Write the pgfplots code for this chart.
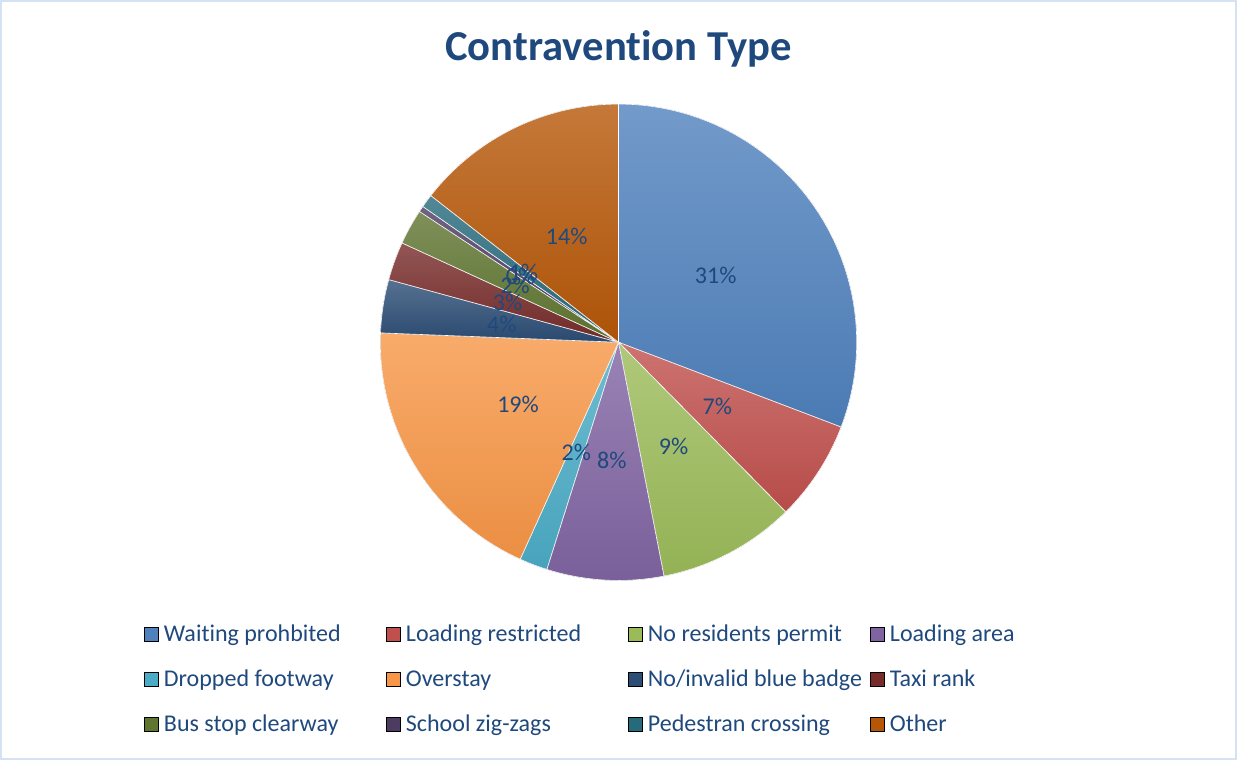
\documentclass[border=0pt]{standalone}
\usepackage{pgfplots}
\pgfplotsset{compat=1.18}
\usepackage{pgfplotstable}
\usepackage{fontspec}
\setmainfont{Carlito}[Ligatures={NoCommon}]

\definecolor{c0}{HTML}{4F81BD}
\definecolor{c1}{HTML}{C0504D}
\definecolor{c2}{HTML}{9BBB59}
\definecolor{c3}{HTML}{8064A2}
\definecolor{c4}{HTML}{4BACC6}
\definecolor{c5}{HTML}{F79646}
\definecolor{c6}{HTML}{2C4D75}
\definecolor{c7}{HTML}{772C2A}
\definecolor{c8}{HTML}{5F7530}
\definecolor{c9}{HTML}{4D3B62}
\definecolor{c10}{HTML}{276A7C}
\definecolor{c11}{HTML}{B65708}
\definecolor{txt}{HTML}{1F497D}
\definecolor{frame}{HTML}{D5E2F3}

\pgfplotstableread{
value
30.7
6.8
9.3
7.9
1.9
18.8
3.6
2.6
2.4
0.4
0.9
14.4
}\pietable

\pgfplotsset{sq/.style={legend image code/.code={\fill[##1] (0pt,-3pt) rectangle (7pt,4pt);}}}

\begin{document}
\begin{tikzpicture}
\begin{axis}[
  at={(0,0)}, anchor=south west,
  width=618.5pt, height=380pt, scale only axis,
  xmin=0, xmax=1237, ymin=0, ymax=760,
  hide axis, clip=false,
  legend columns=4,
  legend cell align=left,
  legend style={at={(axis cs:144,80)}, anchor=west, draw=none, fill=none,
    inner sep=0pt, outer sep=0pt, row sep=10.5pt,
    font=\fontsize{12}{14}\selectfont, text=txt,
    nodes={inner xsep=0pt, inner ysep=0pt, text height=9pt, text depth=3pt},
    /tikz/every odd column/.append style={column sep=2.5pt},
    /tikz/every even column/.append style={column sep=0pt}},
]
\addlegendimage{sq, fill=c0}\addlegendentry{\makebox[111pt][l]{Waiting prohbited}}
\addlegendimage{sq, fill=c1}\addlegendentry{\makebox[111pt][l]{Loading restricted}}
\addlegendimage{sq, fill=c2}\addlegendentry{\makebox[111pt][l]{No residents permit}}
\addlegendimage{sq, fill=c3}\addlegendentry{\makebox[111pt][l]{Loading area}}
\addlegendimage{sq, fill=c4}\addlegendentry{\makebox[111pt][l]{Dropped footway}}
\addlegendimage{sq, fill=c5}\addlegendentry{\makebox[111pt][l]{Overstay}}
\addlegendimage{sq, fill=c6}\addlegendentry{\makebox[111pt][l]{No/invalid blue badge}}
\addlegendimage{sq, fill=c7}\addlegendentry{\makebox[111pt][l]{Taxi rank}}
\addlegendimage{sq, fill=c8}\addlegendentry{\makebox[111pt][l]{Bus stop clearway}}
\addlegendimage{sq, fill=c9}\addlegendentry{\makebox[111pt][l]{School zig-zags}}
\addlegendimage{sq, fill=c10}\addlegendentry{\makebox[111pt][l]{Pedestran crossing}}
\addlegendimage{sq, fill=c11}\addlegendentry{\makebox[111pt][l]{Other}}

\def\total{0}
\pgfplotsforeachungrouped \i in {0,...,11}{%
  \pgfplotstablegetelem{\i}{value}\of\pietable
  \pgfmathsetmacro\total{\total+\pgfplotsretval}%
}
% wedges
\def\cum{0}
\pgfplotsforeachungrouped \i in {0,...,11}{%
  \pgfplotstablegetelem{\i}{value}\of\pietable
  \let\v\pgfplotsretval
  \pgfmathsetmacro\a{90-\cum/\total*360}%
  \pgfmathsetmacro\cumnew{\cum+\v}%
  \pgfmathsetmacro\b{90-\cumnew/\total*360}%
  \edef\temp{\noexpand\fill[top color=c\i!80!white, bottom color=c\i!95!black, draw=white, line width=0.3pt]
    (axis cs:618,418) -- ++(\a:119pt) arc[start angle=\a, end angle=\b, radius=119pt] -- cycle;}%
  \temp
  \let\cum\cumnew
}
% labels
\def\cum{0}
\pgfplotsforeachungrouped \i in {0,...,11}{%
  \pgfplotstablegetelem{\i}{value}\of\pietable
  \let\v\pgfplotsretval
  \pgfmathsetmacro\a{90-\cum/\total*360}%
  \pgfmathsetmacro\cumnew{\cum+\v}%
  \pgfmathsetmacro\b{90-\cumnew/\total*360}%
  \pgfmathsetmacro\m{(\a+\b)/2}%
  \pgfmathtruncatemacro\pp{round(\v/\total*100)}%
  \edef\temp{\noexpand\node[text=txt, font=\noexpand\fontsize{12}{14}\noexpand\selectfont, inner sep=0pt]
    at ([shift={(\m:59pt)}]axis cs:618,418) {\pp\noexpand\%};}%
  \temp
  \let\cum\cumnew
}
\node[text=txt, font=\fontsize{21.3}{25}\selectfont\bfseries] at (axis cs:618,711) {Contravention Type};
\draw[frame, line width=1pt] (axis cs:1,2) rectangle (axis cs:1235,759);
\end{axis}
\end{tikzpicture}
\end{document}
